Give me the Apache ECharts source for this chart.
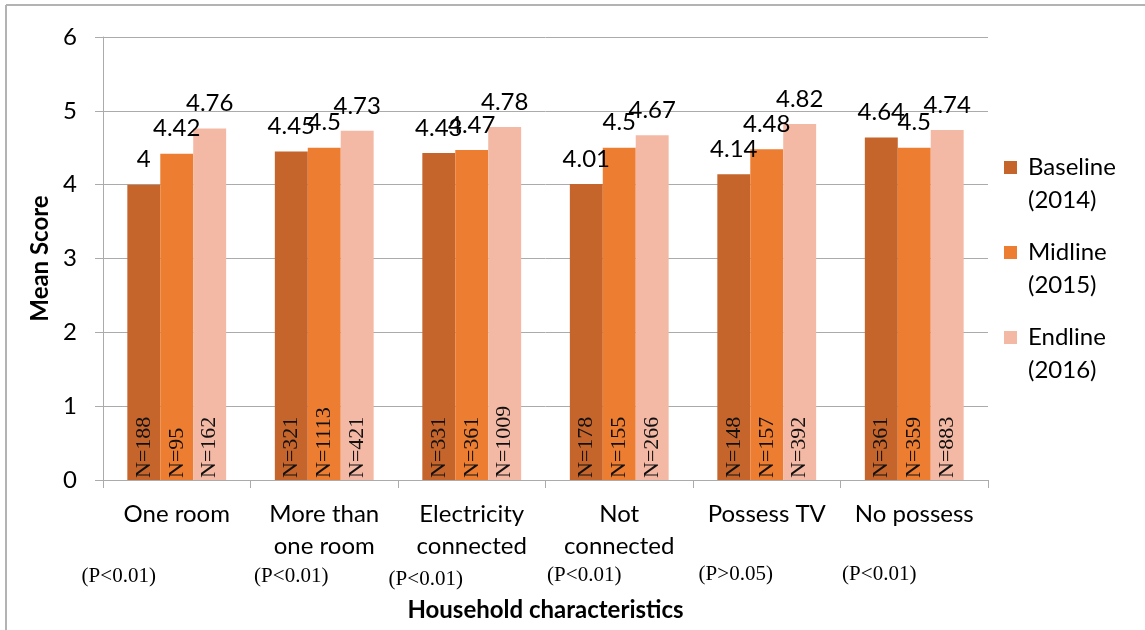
<!DOCTYPE html>
<html>
<head>
<meta charset="utf-8">
<script src="https://cdn.jsdelivr.net/npm/echarts@6/dist/echarts.min.js"></script>
<style>
  html, body { margin: 0; padding: 0; background: #fff; }
  #chart { width: 1145px; height: 630px; }
</style>
</head>
<body>
<div id="chart"></div>
<script>
// Household characteristics vs. mean score across survey rounds
const categories = ['One room', 'More than\none room', 'Electricity\nconnected', 'Not\nconnected', 'Possess TV', 'No possess'];
const seriesNames = ['Baseline\n(2014)', 'Midline\n(2015)', 'Endline\n(2016)'];
const baseline = [4, 4.45, 4.43, 4.01, 4.14, 4.64];
const midline = [4.42, 4.5, 4.47, 4.5, 4.48, 4.5];
const endline = [4.76, 4.73, 4.78, 4.67, 4.82, 4.74];
const nBaseline = [188, 321, 331, 178, 148, 361];
const nMidline = [95, 1113, 361, 155, 157, 359];
const nEndline = [162, 421, 1009, 266, 392, 883];
const pValues = ['(P<0.01)', '(P<0.01)', '(P<0.01)', '(P<0.01)', '(P>0.05)', '(P<0.01)'];
const yTicks = [0, 1, 2, 3, 4, 5, 6];

const colors = ['#C5652B', '#ED7D31', '#F4B9A5'];
const values = [baseline, midline, endline];
const counts = [nBaseline, nMidline, nEndline];

// horizontal offset / vertical position of each p-value note under its category
const pOffsetX = [-58, -33, -46, -35, -31, -35];
const pY = [576, 576, 579, 575, 574, 574];

const sansFont = 'Lato';
const serifFont = 'Liberation Serif';

const chart = echarts.init(document.getElementById('chart'), null, { renderer: 'canvas' });

// legend icon: square at the top of a taller box so it lines up with the first text line
const legendIcon = 'path://M0,0 L10,0 L10,10 L0,10 Z M0,35.39 L0.01,35.39 L0.01,35.4 L0,35.4 Z';

const series = [];
values.forEach((vals, i) => {
  const stackId = 's' + i;
  // zero-height base carrying the sample size label
  series.push({
    type: 'bar',
    name: 'n' + i,
    stack: stackId,
    data: vals.map(() => 0),
    itemStyle: { color: colors[i] },
    barCategoryGap: '33%',
    barGap: '0%',
    silent: true,
    label: {
      show: true,
      position: 'insideBottom',
      rotate: 90,
      align: 'left',
      verticalAlign: 'middle',
      distance: 2,
      fontFamily: serifFont,
      fontSize: 22,
      color: '#111',
      formatter: p => 'N=' + counts[i][p.dataIndex]
    }
  });
  series.push({
    type: 'bar',
    name: seriesNames[i],
    stack: stackId,
    data: vals,
    itemStyle: { color: colors[i] },
    barCategoryGap: '33%',
    barGap: '0%',
    label: {
      show: true,
      position: 'top',
      distance: 13,
      fontFamily: sansFont,
      fontSize: 24,
      color: '#000',
      formatter: p => String(p.value)
    }
  });
});

chart.setOption({
  animation: false,
  backgroundColor: '#fff',
  color: colors,
  grid: { left: 103, right: 157, top: 37, bottom: 150, containLabel: false },
  legend: {
    data: seriesNames,
    orient: 'vertical',
    left: 999,
    top: 146,
    icon: legendIcon,
    itemWidth: 13,
    itemHeight: 46,
    itemGap: 19,
    selectedMode: false,
    textStyle: {
      fontFamily: sansFont,
      fontSize: 24,
      lineHeight: 33,
      color: '#000',
      padding: [0, 0, 0, 6]
    }
  },
  xAxis: {
    type: 'category',
    data: categories,
    name: 'Household characteristics',
    nameLocation: 'middle',
    nameGap: 118,
    nameTextStyle: { fontFamily: sansFont, fontWeight: 'bold', fontSize: 24, color: '#000' },
    axisLine: { lineStyle: { color: '#ABABAB', width: 1 } },
    axisTick: { show: true, length: 8, lineStyle: { color: '#ABABAB' } },
    axisLabel: {
      margin: 18,
      fontFamily: sansFont,
      fontSize: 24,
      lineHeight: 32,
      color: '#000',
      interval: 0
    }
  },
  yAxis: {
    type: 'value',
    min: 0,
    max: 6,
    interval: 1,
    name: 'Mean Score',
    nameLocation: 'middle',
    nameGap: 51,
    nameRotate: 90,
    nameTextStyle: { fontFamily: sansFont, fontWeight: 'bold', fontSize: 24, color: '#000' },
    axisLine: { show: true, lineStyle: { color: '#ABABAB', width: 1 } },
    axisTick: { show: true, length: 8, inside: false, lineStyle: { color: '#ABABAB' } },
    splitLine: { show: true, lineStyle: { color: '#ABABAB', width: 1 } },
    axisLabel: {
      margin: 26,
      fontFamily: sansFont,
      fontSize: 24,
      color: '#000',
      formatter: v => yTicks.includes(v) ? String(v) : ''
    }
  },
  series: series
});

// p-value notes under each category, plus the frame lines
const graphics = pValues.map((txt, i) => {
  const cx = chart.convertToPixel({ xAxisIndex: 0 }, i);
  return {
    type: 'text',
    x: cx + pOffsetX[i],
    y: pY[i],
    style: {
      text: txt,
      fontFamily: serifFont,
      fontSize: 21,
      fill: '#000',
      align: 'center',
      verticalAlign: 'middle'
    }
  };
});
graphics.push({
  type: 'line',
  shape: { x1: 6, y1: 5, x2: 1145, y2: 5 },
  style: { stroke: '#B3B3B3', lineWidth: 2 }
});
graphics.push({
  type: 'line',
  shape: { x1: 6, y1: 5, x2: 6, y2: 630 },
  style: { stroke: '#B3B3B3', lineWidth: 2 }
});
chart.setOption({ graphic: graphics });
</script>
</body>
</html>
